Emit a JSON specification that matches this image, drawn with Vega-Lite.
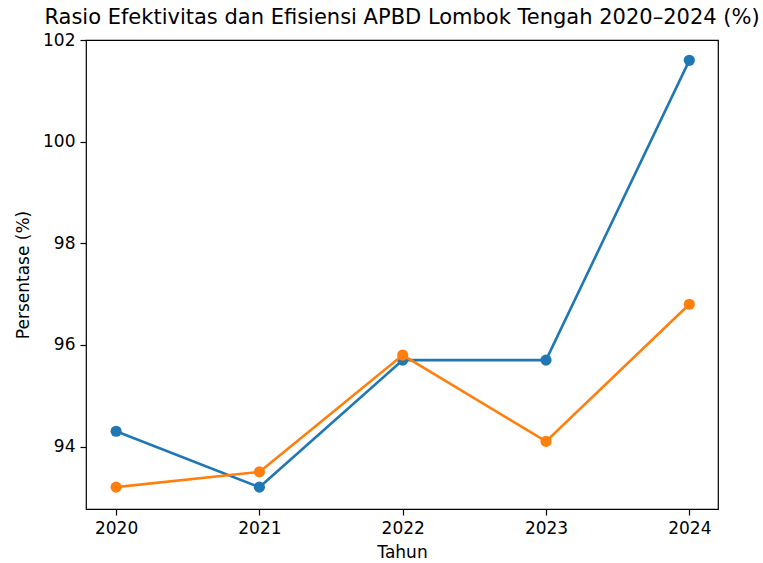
{
  "$schema": "https://vega.github.io/schema/vega-lite/v6.json",
  "width": 632,
  "height": 469,
  "autosize": "none",
  "padding": {"left": 86, "top": 40, "right": 45, "bottom": 54},
  "background": "white",
  "title": {"text": "Rasio Efektivitas dan Efisiensi APBD Lombok Tengah 2020–2024 (%)", "font": "DejaVu Sans", "fontSize": 21, "fontWeight": "normal", "color": "black", "offset": 3, "anchor": "middle"},
  "config": {
    "view": {"stroke": "black", "strokeWidth": 1.2},
    "axis": {"labelFont": "DejaVu Sans", "titleFont": "DejaVu Sans", "labelFontSize": 17, "titleFontSize": 17, "titleFontWeight": "normal", "labelColor": "black", "titleColor": "black", "tickColor": "black", "tickWidth": 1.2, "domain": false, "grid": false, "tickSize": 6, "labelPadding": 5}
  },
  "data": {"values": [
    {"year": 2020, "series": "Efektivitas", "value": 94.3},
    {"year": 2021, "series": "Efektivitas", "value": 93.2},
    {"year": 2022, "series": "Efektivitas", "value": 95.7},
    {"year": 2023, "series": "Efektivitas", "value": 95.7},
    {"year": 2024, "series": "Efektivitas", "value": 101.6},
    {"year": 2020, "series": "Efisiensi", "value": 93.2},
    {"year": 2021, "series": "Efisiensi", "value": 93.5},
    {"year": 2022, "series": "Efisiensi", "value": 95.8},
    {"year": 2023, "series": "Efisiensi", "value": 94.1},
    {"year": 2024, "series": "Efisiensi", "value": 96.8}
  ]},
  "encoding": {
    "x": {"field": "year", "type": "quantitative", "title": "Tahun", "scale": {"domain": [2019.79, 2024.2], "nice": false, "zero": false}, "axis": {"values": [2020, 2021, 2022, 2023, 2024], "format": "d", "titlePadding": 8}},
    "y": {"field": "value", "type": "quantitative", "title": "Persentase (%)", "scale": {"domain": [92.77, 102.0], "nice": false, "zero": false}, "axis": {"values": [94, 96, 98, 100, 102], "format": "d", "titlePadding": 10}},
    "color": {"field": "series", "type": "nominal", "scale": {"domain": ["Efektivitas", "Efisiensi"], "range": ["#1f77b4", "#ff7f0e"]}, "legend": null}
  },
  "layer": [
    {"transform": [{"filter": "datum.series == 'Efektivitas'"}], "mark": {"type": "line", "strokeWidth": 2.6}},
    {"transform": [{"filter": "datum.series == 'Efektivitas'"}], "mark": {"type": "point", "filled": true, "size": 125, "opacity": 1}},
    {"transform": [{"filter": "datum.series == 'Efisiensi'"}], "mark": {"type": "line", "strokeWidth": 2.6}},
    {"transform": [{"filter": "datum.series == 'Efisiensi'"}], "mark": {"type": "point", "filled": true, "size": 125, "opacity": 1}}
  ]
}
